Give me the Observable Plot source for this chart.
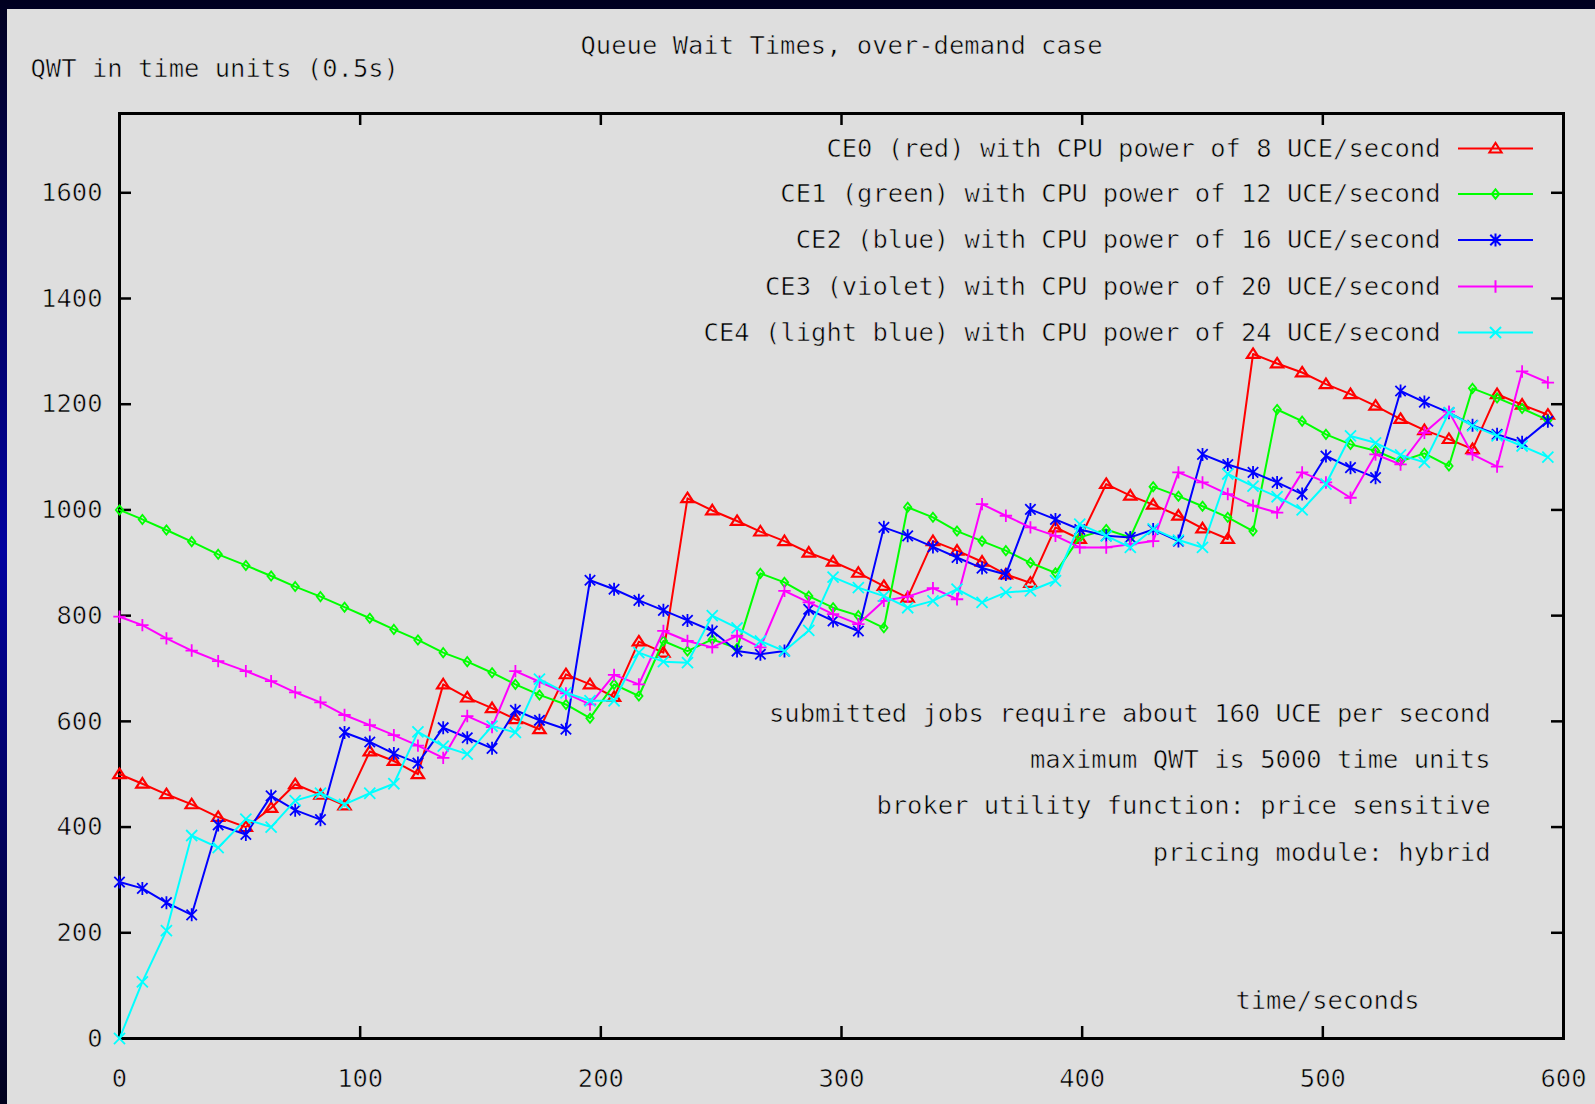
<!DOCTYPE html>
<html>
<head>
<meta charset="utf-8">
<script src="https://cdn.jsdelivr.net/npm/d3@7"></script>
<script src="https://cdn.jsdelivr.net/npm/@observablehq/plot@0.6"></script>
<style>
  html, body { margin: 0; padding: 0; width: 1595px; height: 1104px; overflow: hidden; }
  body { position: relative; background: linear-gradient(to bottom, #000020 0%, #0000a0 50%, #00001c 100%); }
  #panel { position: absolute; left: 7px; top: 9px; right: 0; bottom: 0; background: #dedede; }
  #chart { position: absolute; left: 0; top: 0; }
  #chart text { paint-order: normal; }
</style>
</head>
<body>
<div id="panel"></div>
<div id="chart"></div>
<script>
// Sample times (seconds) shared by all five computing elements
const times = [0, 9.5, 19.5, 30, 41, 52.5, 63, 73, 83.5, 93.5,
  104, 114, 124, 134.5, 144.5, 154.8, 164.5, 174.5, 185.5, 195.5,
  205.5, 215.8, 226, 236, 246.3, 256.6, 266.3, 276.3, 286.4, 296.5,
  307, 317.6, 327.5, 338, 348, 358.4, 368.3, 378.5, 388.9, 399,
  410, 420, 429.5, 440, 450, 460.5, 471, 481, 491.4, 501.3,
  511.5, 521.9, 532.3, 542.2, 552.4, 562.2, 572.4, 582.8, 593.5];

// Queue wait time (time units) per computing element
const ce0 = [500, 482, 462, 443, 419, 400, 436, 481, 461, 441,
  543, 525, 500, 670, 645, 625, 604, 585, 689, 670,
  646, 751, 730, 1022, 999, 979, 959, 941, 919, 902,
  881, 856, 834, 941, 923, 902, 878, 862, 967, 945,
  1049, 1027, 1010, 989, 965, 945, 1295, 1277, 1260, 1238,
  1219, 1197, 1172, 1151, 1134, 1115, 1219, 1199, 1180];
const ce1 = [1000, 982, 962, 940, 916, 895, 875, 855, 836, 816,
  795, 774, 754, 730, 713, 692, 670, 650, 632, 606,
  670, 648, 752, 733, 755, 738, 880, 863, 837, 815,
  800, 777, 1005, 986, 960, 941, 923, 900, 881, 948,
  963, 948, 1044, 1026, 1007, 986, 960, 1190, 1168, 1143,
  1124, 1112, 1092, 1107, 1083, 1230, 1212, 1192, 1170];
const ce2 = [296, 284, 257, 234, 404, 386, 459, 432, 414, 579,
  561, 539, 521, 588, 569, 549, 621, 602, 585, 867,
  850, 829, 810, 791, 771, 733, 727, 733, 812, 790,
  771, 967, 951, 930, 910, 890, 878, 1001, 982, 963,
  951, 948, 963, 941, 1105, 1086, 1071, 1052, 1030, 1102,
  1080, 1061, 1225, 1204, 1184, 1160, 1143, 1128, 1168];
const ce3 = [798, 782, 757, 734, 714, 695, 676, 655, 636, 612,
  593, 574, 554, 531, 610, 589, 695, 675, 653, 632,
  688, 670, 771, 752, 740, 762, 740, 847, 825, 803,
  784, 828, 836, 852, 831, 1011, 989, 967, 951, 929,
  929, 935, 941, 1071, 1052, 1030, 1008, 995, 1071, 1052,
  1023, 1105, 1086, 1146, 1186, 1105, 1082, 1262, 1241];
const ce4 = [0, 107, 204, 384, 361, 415, 400, 450, 464, 443,
  464, 482, 580, 553, 538, 591, 579, 680, 654, 639,
  639, 730, 713, 711, 800, 777, 752, 733, 772, 873,
  853, 837, 815, 828, 850, 825, 844, 847, 866, 973,
  951, 929, 964, 943, 929, 1068, 1045, 1025, 1000, 1049,
  1140, 1127, 1104, 1090, 1184, 1159, 1140, 1121, 1100];

const seriesNames = [
  "CE0 (red) with CPU power of 8 UCE/second",
  "CE1 (green) with CPU power of 12 UCE/second",
  "CE2 (blue) with CPU power of 16 UCE/second",
  "CE3 (violet) with CPU power of 20 UCE/second",
  "CE4 (light blue) with CPU power of 24 UCE/second"
];
const seriesColors = ["#ff0000", "#00ff00", "#0000ff", "#ff00ff", "#00ffff"];
const seriesValues = [ce0, ce1, ce2, ce3, ce4];

const xTicks = [0, 100, 200, 300, 400, 500, 600];
const yTicks = [0, 200, 400, 600, 800, 1000, 1200, 1400, 1600];

const titleText = "Queue Wait Times, over-demand case";
const yLabelText = "QWT in time units (0.5s)";
const xLabelText = "time/seconds";
const notes = [
  "submitted jobs require about 160 UCE per second",
  "maximum QWT is 5000 time units",
  "broker utility function: price sensitive",
  "pricing module: hybrid"
];

// ---- layout ----
const W = 1595, H = 1104;
const mL = 119, mR = 32, mT = 113, mB = 66;
const frameW = W - mL - mR, frameH = H - mT - mB;
const tickLen = 12;
// thin monospace lettering: a background-coloured stroke painted over the glyph edges
const font = {fontFamily: "DejaVu Sans Mono", fontSize: 25.5, fill: "#000", stroke: "#dedede", strokeWidth: 0.6};

// gnuplot-like point shapes, drawn as outlines
const radius = size => Math.sqrt(size / Math.PI);
const shapes = [
  // open triangle
  (c, r) => { c.moveTo(0, -r); c.lineTo(r * 1.1, r * 0.7); c.lineTo(-r * 1.1, r * 0.7); c.closePath(); },
  // open diamond
  (c, r) => { c.moveTo(0, -r); c.lineTo(r * 0.8, 0); c.lineTo(0, r); c.lineTo(-r * 0.8, 0); c.closePath(); },
  // x with a vertical bar
  (c, r) => { const a = r * 0.8; c.moveTo(-a, -a); c.lineTo(a, a); c.moveTo(-a, a); c.lineTo(a, -a);
              c.moveTo(0, -r); c.lineTo(0, r); },
  // plus
  (c, r) => { c.moveTo(-r, 0); c.lineTo(r, 0); c.moveTo(0, -r); c.lineTo(0, r); },
  // x
  (c, r) => { const a = r * 0.85; c.moveTo(-a, -a); c.lineTo(a, a); c.moveTo(-a, a); c.lineTo(a, -a); }
];
const markerR = [5.6, 4.6, 6.5, 6.2, 6.5];
const markerW = [2.2, 1.8, 1.8, 1.8, 1.8];
const pointSymbol = k => ({draw(c, size) { shapes[k](c, radius(size)); }});
// legend key: short line sample with the point shape in the middle
const keySymbol = k => ({draw(c, size) {
  c.moveTo(-37.5, 0); c.lineTo(37.5, 0);
  shapes[k](c, markerR[k]);
}});

const legendRowY = [148, 193.5, 239.5, 286, 332];
const legendTextRight = 1440, legendKeyX = 1495;
const noteRowY = [713, 759, 805, 852];
const noteRight = 1490;

const marks = [];

// border and inward ticks on all four sides
marks.push(Plot.frame({stroke: "#000", strokeWidth: 3}));
marks.push(Plot.ruleX(xTicks, {x: d => d, insetTop: frameH - tickLen, stroke: "#000", strokeWidth: 2.5}));
marks.push(Plot.ruleX(xTicks, {x: d => d, insetBottom: frameH - tickLen, stroke: "#000", strokeWidth: 2.5}));
marks.push(Plot.ruleY(yTicks, {y: d => d, insetRight: frameW - tickLen, stroke: "#000", strokeWidth: 2.5}));
marks.push(Plot.ruleY(yTicks, {y: d => d, insetLeft: frameW - tickLen, stroke: "#000", strokeWidth: 2.5}));

// tick labels
marks.push(Plot.text(xTicks, {x: d => d, text: d => String(d), frameAnchor: "bottom", dy: 40.5, lineAnchor: "middle", ...font}));
marks.push(Plot.text(yTicks, {y: d => d, text: d => String(d), frameAnchor: "left", dx: -17, textAnchor: "end", lineAnchor: "middle", ...font}));

// title and axis labels
marks.push(Plot.text([titleText], {text: d => d, frameAnchor: "top", dy: 45 - mT, lineAnchor: "middle", ...font}));
marks.push(Plot.text([yLabelText], {text: d => d, frameAnchor: "top-left", dx: 30 - mL, dy: 68 - mT, textAnchor: "start", lineAnchor: "middle", ...font}));
marks.push(Plot.text([xLabelText], {text: d => d, frameAnchor: "bottom-right", dx: 1327 - (W - mR), dy: 1000 - (H - mB), textAnchor: "middle", lineAnchor: "middle", ...font}));

// run notes, right-aligned inside the frame
notes.forEach((n, i) => {
  marks.push(Plot.text([n], {text: d => d, frameAnchor: "top-right", dx: noteRight - (W - mR), dy: noteRowY[i] - mT,
    textAnchor: "end", lineAnchor: "middle", ...font}));
});

// series: line with point markers, drawn in order CE0..CE4
seriesValues.forEach((vals, k) => {
  const rows = times.map((t, i) => ({t, v: vals[i]}));
  marks.push(Plot.line(rows, {x: "t", y: "v", stroke: seriesColors[k], strokeWidth: 2}));
  marks.push(Plot.dot(rows, {x: "t", y: "v", symbol: pointSymbol(k), r: markerR[k],
    fill: "none", stroke: seriesColors[k], strokeWidth: markerW[k]}));
});

// legend
seriesNames.forEach((name, k) => {
  marks.push(Plot.text([name], {text: d => d, frameAnchor: "top-right", dx: legendTextRight - (W - mR), dy: legendRowY[k] - mT,
    textAnchor: "end", lineAnchor: "middle", ...font}));
  marks.push(Plot.dot([name], {frameAnchor: "top-right", dx: legendKeyX - (W - mR), dy: legendRowY[k] - mT,
    symbol: keySymbol(k), r: markerR[k], fill: "none", stroke: seriesColors[k], strokeWidth: 2}));
});

const chart = Plot.plot({
  width: W,
  height: H,
  marginLeft: mL,
  marginRight: mR,
  marginTop: mT,
  marginBottom: mB,
  x: {domain: [0, 600], axis: null},
  y: {domain: [0, 1750], axis: null},
  style: {background: "transparent", fontFamily: "DejaVu Sans Mono", fontSize: "25.5px", color: "#000", overflow: "visible"},
  marks
});
document.getElementById("chart").appendChild(chart);
</script>
</body>
</html>
